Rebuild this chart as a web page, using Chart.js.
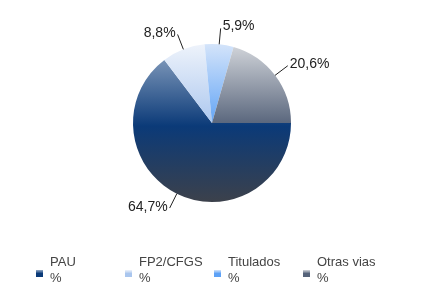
<!DOCTYPE html>
<html>
<head>
<meta charset="utf-8">
<script src="https://cdn.jsdelivr.net/npm/chart.js@4/dist/chart.umd.min.js"></script>
<style>
  html, body { margin: 0; padding: 0; background: #fff; }
  #wrap { width: 425px; height: 306px; }
</style>
</head>
<body>
<div id="wrap"><canvas id="pie" width="425" height="306"></canvas></div>
<script>
const categories = ['PAU', 'FP2/CFGS', 'Titulados', 'Otras vias'];
const values = [64.7, 8.8, 5.9, 20.6];
const valueLabels = ['64,7%', '8,8%', '5,9%', '20,6%'];
const legendSub = ['%', '%', '%', '%'];

// top / middle / bottom shades for each slice
const topColors = ['#93a9c6', '#eef3fb', '#d4e4fa', '#d3d6db'];
const midColors = ['#0b3a78', '#aac6ee', '#5ea2f6', '#56637a'];
const lowColors = ['#3c414b', '#8aa0c0', '#3f6fb0', '#3c414b'];

function sliceFill(c) {
    const chart = c.chart;
    const area = chart.chartArea;
    const i = c.dataIndex;
    if (!area) return midColors[i];
    const g = chart.ctx.createLinearGradient(0, area.top, 0, area.bottom);
    g.addColorStop(0, topColors[i]);
    g.addColorStop(0.52, midColors[i]);
    g.addColorStop(1, lowColors[i]);
    return g;
}

const labelPlugin = {
    id: 'sliceLabels',
    afterDatasetsDraw(chart) {
        const ctx = chart.ctx;
        const meta = chart.getDatasetMeta(0);
        ctx.save();
        ctx.strokeStyle = '#222';
        ctx.lineWidth = 1;
        ctx.fillStyle = '#222';
        ctx.font = '14px "Liberation Sans", Arial, sans-serif';
        ctx.textBaseline = 'middle';
        meta.data.forEach((arc, i) => {
            const p = arc.getProps(['x', 'y', 'startAngle', 'endAngle', 'outerRadius'], true);
            const mid = (p.startAngle + p.endAngle) / 2;
            const cos = Math.cos(mid), sin = Math.sin(mid);
            const x0 = p.x + cos * p.outerRadius, y0 = p.y + sin * p.outerRadius;
            const x1 = p.x + cos * (p.outerRadius + 16), y1 = p.y + sin * (p.outerRadius + 16);
            ctx.beginPath();
            ctx.moveTo(x0, y0);
            ctx.lineTo(x1, y1);
            ctx.stroke();
            if (cos < 0) {
                ctx.textAlign = 'right';
                ctx.fillText(valueLabels[i], x1 - 2, y1 - 1);
            } else {
                ctx.textAlign = 'left';
                ctx.fillText(valueLabels[i], x1 + 2, y1 - 2);
            }
        });
        ctx.restore();
    }
};

const legendPlugin = {
    id: 'twoLineLegend',
    afterDraw(chart) {
        const ctx = chart.ctx;
        const startX = 36, step = 89, boxY = 270;
        ctx.save();
        ctx.font = '13px "Liberation Sans", Arial, sans-serif';
        ctx.textBaseline = 'alphabetic';
        ctx.textAlign = 'left';
        categories.forEach((name, i) => {
            const x = startX + i * step;
            const g = ctx.createLinearGradient(0, boxY, 0, boxY + 7);
            g.addColorStop(0, topColors[i]);
            g.addColorStop(0.5, midColors[i]);
            g.addColorStop(1, midColors[i]);
            ctx.fillStyle = g;
            ctx.fillRect(x, boxY, 7, 7);
            ctx.fillStyle = '#444';
            ctx.fillText(name, x + 14, 266);
            ctx.fillText(legendSub[i], x + 14, 282);
        });
        ctx.restore();
    }
};

new Chart(document.getElementById('pie'), {
    type: 'pie',
    data: {
        labels: categories,
        datasets: [{
            data: values,
            backgroundColor: sliceFill,
            borderWidth: 0,
            hoverOffset: 0
        }]
    },
    options: {
        responsive: false,
        animation: false,
        rotation: 90,
        layout: {
            padding: { left: 133, right: 134, top: 44, bottom: 104 }
        },
        plugins: {
            legend: { display: false },
            tooltip: { enabled: false }
        }
    },
    plugins: [labelPlugin, legendPlugin]
});
</script>
</body>
</html>
